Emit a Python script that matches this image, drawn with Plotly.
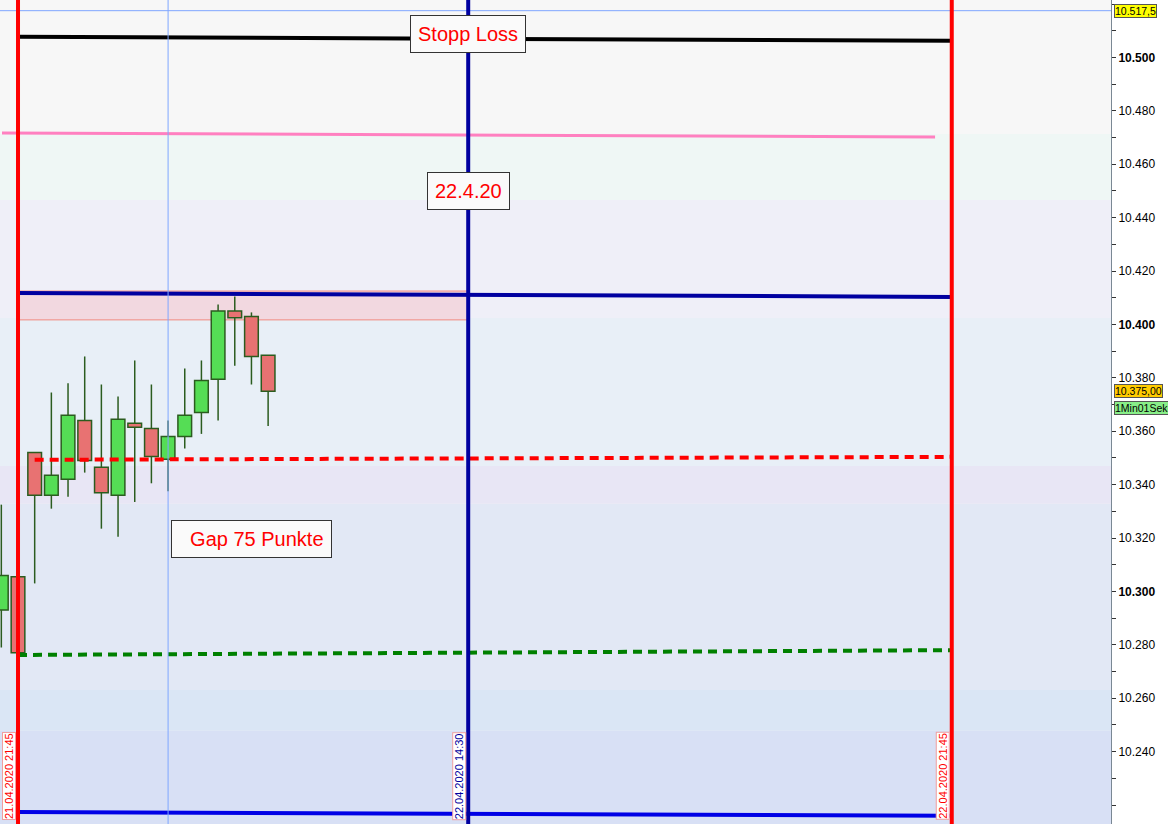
import plotly.graph_objects as go

# 15-minute candles, x = bar index (21.04.2020 21:45 -> 0)
bar_idx = list(range(-1, 16))
times = ["21.04. 21:30", "21.04. 21:45", "22.04. 08:00", "22.04. 08:15", "22.04. 08:30",
         "22.04. 08:45", "22.04. 09:00", "22.04. 09:15", "22.04. 09:30", "22.04. 09:45",
         "22.04. 10:00", "22.04. 10:15", "22.04. 10:30", "22.04. 10:45", "22.04. 11:00",
         "22.04. 11:15", "22.04. 11:30"]
opens = [10293, 10305.5, 10352, 10336, 10342, 10364, 10346.5, 10336, 10363, 10361,
         10349.5, 10358, 10367, 10379.5, 10405, 10403, 10388.5]
highs = [10332.5, 10305.5, 10352, 10374.5, 10378, 10388, 10377.5, 10373, 10386.5, 10377.5,
         10364, 10383.5, 10386.5, 10407.5, 10410.5, 10404.5, 10388.5]
lows = [10279, 10277, 10303, 10331, 10335.5, 10344.5, 10323.5, 10320.5, 10333.5, 10340.5,
        10337.5, 10353.5, 10359, 10364, 10384.5, 10377.5, 10362]
closes = [10306, 10277, 10336, 10343.5, 10366, 10349, 10337, 10364.5, 10361.5, 10350.5,
          10358, 10366, 10379, 10405, 10402.5, 10388, 10375]

# drawn trend lines: start/end bar index and price
line_names = ["stop", "pink", "navy", "red", "green", "blue"]
line_x0 = [0, -0.96, 0, 1.0, 0, 0]
line_x1 = [56, 55.0, 56, 56, 56, 56]
line_y0 = [10507.7, 10471.7, 10411.8, 10349.3, 10276.2, 10217.4]
line_y1 = [10506.2, 10470.2, 10410.3, 10350.4, 10278.0, 10216.0]

# vertical time markers
vline_idx = [0, 27, 56]
vline_text = ["21.04.2020 21:45", "22.04.2020 14:30", "22.04.2020 21:45"]

# background price bands
band_edges = [10530, 10471.3, 10446.6, 10402.4, 10347, 10332.8, 10263.1, 10247.8, 10200]

tick_vals = list(range(10240, 10540, 20))
tick_text = [("<b>%s</b>" if v % 100 == 0 else "%s") % f"{v:,}".replace(",", ".") for v in tick_vals]

line_styles = {
    "stop": dict(color="#000000", width=4),
    "pink": dict(color="#ff80c0", width=3),
    "navy": dict(color="#0000a0", width=4),
    "red": dict(color="#ff0000", width=4, dash="9px,6px"),
    "green": dict(color="#008000", width=4, dash="9px,6px"),
    "blue": dict(color="#0000e6", width=4),
}
band_colors = ["#f7f7f7", "#eff7f5", "#efeff8", "#e8eff7", "#e8e6f5", "#e2e8f5", "#dae6f5", "#d8e0f5"]
vline_colors = ["#ff0000", "#0000a0", "#ff0000"]
FONT = "Liberation Sans, Arial, sans-serif"

fig = go.Figure()

for i in range(len(band_colors)):
    fig.add_shape(type="rect", xref="paper", x0=0, x1=1, yref="y",
                  y0=band_edges[i + 1], y1=band_edges[i],
                  fillcolor=band_colors[i], line_width=0, layer="below")

fig.add_shape(type="rect", x0=0, x1=27, y0=10401.7, y1=10412.5,
              fillcolor="#f2d8e0", line=dict(color="#f08a80", width=1), layer="below")

# candles: wicks as segments outside the body, bodies as bars
wick_x, wick_y = [], []
for x, o, h, l, c in zip(bar_idx, opens, highs, lows, closes):
    top, bot = max(o, c), min(o, c)
    if h > top:
        wick_x += [x, x, None]
        wick_y += [h, top, None]
    if l < bot:
        wick_x += [x, x, None]
        wick_y += [bot, l, None]
fig.add_trace(go.Scatter(x=wick_x, y=wick_y, mode="lines",
                         line=dict(color="#2b5c1f", width=1.5), hoverinfo="skip"))
fig.add_trace(go.Bar(
    x=bar_idx,
    base=[min(o, c) for o, c in zip(opens, closes)],
    y=[max(abs(c - o), 0.8) for o, c in zip(opens, closes)],
    width=0.82,
    marker=dict(color=["#55dd55" if c >= o else "#e87272" for o, c in zip(opens, closes)],
                line=dict(color="#2b5c1f", width=1.5)),
    hovertext=times,
))

for name, x0, x1, y0, y1 in zip(line_names, line_x0, line_x1, line_y0, line_y1):
    fig.add_trace(go.Scatter(x=[x0, x1], y=[y0, y1], mode="lines",
                             line=line_styles[name], hoverinfo="skip"))

# crosshair
fig.add_shape(type="line", xref="paper", x0=0, x1=1, y0=10517.5, y1=10517.5,
              line=dict(color="#7fa6ff", width=1))
fig.add_shape(type="line", x0=9, x1=9, yref="paper", y0=0, y1=1,
              line=dict(color="#7fa6ff", width=1))

for xi, txt, col in zip(vline_idx, vline_text, vline_colors):
    fig.add_shape(type="line", x0=xi, x1=xi, yref="paper", y0=0, y1=1,
                  line=dict(color=col, width=4))
    fig.add_annotation(x=xi, y=0, yref="paper", text=txt, textangle=-90, showarrow=False,
                       xanchor="center", yanchor="middle", xshift=-9, yshift=48,
                       font=dict(family=FONT, size=11, color=col),
                       bgcolor="#ffffff", bordercolor="#f0a0a0", borderwidth=1, borderpad=0)

box = dict(showarrow=False, bgcolor="#fafafa", bordercolor="#333333", borderwidth=1,
           borderpad=7, font=dict(family=FONT, size=20, color="#ff0000"))
fig.add_annotation(x=27, y=10508.8, text="Stopp Loss", **box)
fig.add_annotation(x=27, y=10450, text="22.4.20", **box)
fig.add_annotation(x=14, y=10319.7, text="  Gap 75 Punkte", **box)

side = dict(xref="paper", x=1, xanchor="left", xshift=3, showarrow=False,
            bordercolor="#555555", borderwidth=1, borderpad=0,
            font=dict(family=FONT, size=10.5, color="#000000"))
fig.add_annotation(y=10517.5, text="10.517,5", bgcolor="#ffff00", **side)
fig.add_annotation(y=10375, text="10.375,00", bgcolor="#ffcc00", **side)
fig.add_annotation(y=10368.6, text="1Min01Sek", bgcolor="#88ee88", **side)

fig.update_layout(
    width=1168,
    height=824,
    margin=dict(l=0, r=57, t=0, b=0, autoexpand=False),
    paper_bgcolor="#ffffff",
    plot_bgcolor="#f7f7f7",
    showlegend=False,
    barmode="overlay",
)
fig.update_xaxes(
    range=[-1.08, 65.55],
    visible=False,
)
fig.update_yaxes(
    range=[10212.9, 10521.5],
    side="right",
    tickvals=tick_vals,
    ticktext=tick_text,
    ticks="outside",
    ticklen=4,
    tickcolor="#333333",
    minor=dict(dtick=10, ticks="outside", ticklen=4, tickcolor="#333333"),
    showline=True,
    linecolor="#7a8894",
    showgrid=False,
    zeroline=False,
    automargin=False,
    tickfont=dict(family=FONT, size=12, color="#000000"),
)

fig.write_html("out.html", config=dict(displayModeBar=False),
               post_script="document.body.style.margin='0';")
